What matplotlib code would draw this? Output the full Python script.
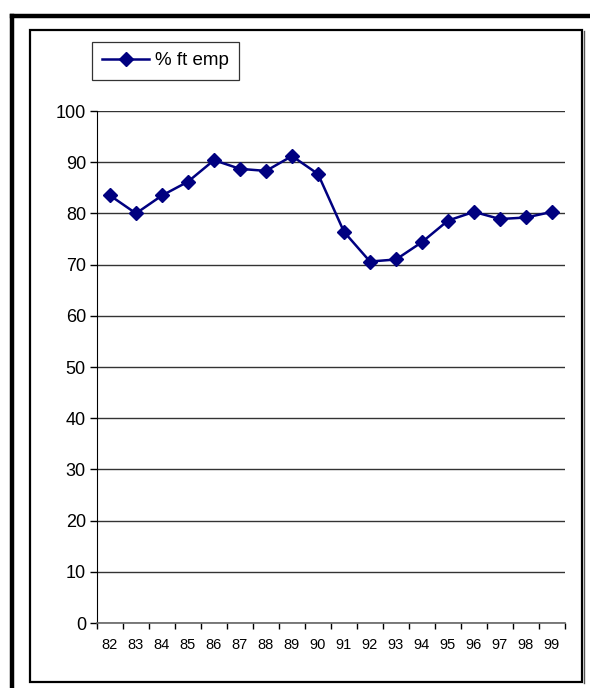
import matplotlib
matplotlib.use("Agg")
import matplotlib.pyplot as plt
from matplotlib.lines import Line2D
from matplotlib.patches import Rectangle

plt.rcParams['font.family'] = ['Liberation Sans', 'DejaVu Sans']

# data
years = ['82', '83', '84', '85', '86', '87', '88', '89', '90',
         '91', '92', '93', '94', '95', '96', '97', '98', '99']
ft_emp = [83.5, 80.0, 83.5, 86.2, 90.4, 88.7, 88.3, 91.2, 87.7,
          76.4, 70.6, 71.0, 74.4, 78.6, 80.3, 78.9, 79.2, 80.3]
y_ticks = [0, 10, 20, 30, 40, 50, 60, 70, 80, 90, 100]

W, H = 590, 688
fig = plt.figure(figsize=(W / 100, H / 100), dpi=100)
fig.patch.set_facecolor('white')

# thick outer frame (left and top edges only visible)
fig.add_artist(Line2D([12 / W, 12 / W], [0, 1 - 15.5 / H], color='black',
                      linewidth=3.2, transform=fig.transFigure))
fig.add_artist(Line2D([12 / W, 1], [1 - 15.5 / H, 1 - 15.5 / H], color='black',
                      linewidth=3.2, transform=fig.transFigure))
# inner chart frame with a little shadow on right/bottom
fig.add_artist(Rectangle((30 / W, 1 - 682 / H), 552 / W, 652 / H, fill=False,
                         edgecolor='black', linewidth=1.6, transform=fig.transFigure))
fig.add_artist(Line2D([583.5 / W, 583.5 / W], [1 - 683 / H, 1 - 31 / H], color='#555555',
                      linewidth=1.0, transform=fig.transFigure))

ax = fig.add_axes([97 / W, 1 - 623 / H, 468 / W, 512 / H])
x = list(range(len(years)))
ax.plot(x, ft_emp, color='#000080', linewidth=1.8, marker='D', markersize=7,
        markeredgecolor='#000080', markerfacecolor='#000080', label='% ft emp',
        zorder=3)

ax.set_ylim(0, 100)
ax.set_xlim(-0.5, len(years) - 0.5)
ax.set_yticks(y_ticks)
ax.set_yticklabels([str(v) for v in y_ticks], fontsize=13)
ax.set_xticks(x)
ax.set_xticklabels(years, fontsize=10.5)
ax.tick_params(axis='x', length=0, pad=11)
ax.set_xticks([i - 0.5 for i in range(len(years) + 1)], minor=True)
ax.tick_params(axis='x', which='minor', length=4, width=1, color='black', direction='out')
ax.tick_params(axis='y', length=5, width=1, direction='out', pad=3)

ax.yaxis.grid(True, color='#333333', linewidth=1.0)
ax.set_axisbelow(True)
for s in ['top', 'right']:
    ax.spines[s].set_visible(False)
ax.spines['left'].set_color('black')
ax.spines['bottom'].set_color('#666666')
ax.spines['bottom'].set_linewidth(1.2)

leg = fig.legend(handles=ax.get_lines(), loc='upper left',
                 bbox_to_anchor=(92 / W, 1 - 42 / H), fontsize=13.5,
                 frameon=True, fancybox=False, edgecolor='black',
                 handlelength=2.5, borderpad=0.55, handletextpad=0.3,
                 borderaxespad=0)
leg.get_frame().set_linewidth(0.9)

fig.savefig('out.png', dpi=100)
